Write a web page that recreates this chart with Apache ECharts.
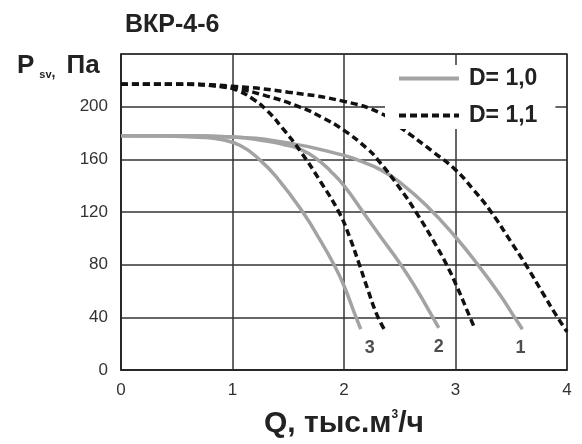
<!DOCTYPE html>
<html><head><meta charset="utf-8">
<script src="https://cdn.jsdelivr.net/npm/echarts@6/dist/echarts.min.js"></script>
<style>html,body{margin:0;padding:0;background:#fff}#c{width:582px;height:444px}</style>
</head><body><div id="c"></div>
<script>
// Data (Q in thousand m3/h, P in Pa)
var s1 = [[0,178],[0.5,178],[1,177],[1.5,172.5],[2.0,163],[2.12,159.5],[2.33,152],[2.51,142],[2.75,124],[3.0,101],[3.2,80],[3.4,57],[3.53,40],[3.6,31]];
var s2 = [[0,178],[0.5,178],[1,177],[1.3,174],[1.45,171.5],[1.61,167.5],[1.76,160],[1.88,151],[2.0,140],[2.17,120],[2.33,101],[2.51,80],[2.66,60],[2.79,41],[2.85,32]];
var s3 = [[0,178],[0.4,177.8],[0.7,176.8],[0.9,175],[1.07,170.5],[1.24,160],[1.40,146],[1.63,120],[1.79,98],[1.91,80],[2.0,64],[2.09,44],[2.15,31]];
var d1 = [[0,217],[0.5,217],[1,215.5],[1.5,211],[2.0,204],[2.33,195],[2.51,184],[2.81,165],[3.0,152],[3.15,138],[3.32,120],[3.5,97],[3.63,80],[3.8,56],[3.9,42],[4.0,29]];
var d2 = [[0,217],[0.5,217],[1,214],[1.31,208],[1.61,199.5],[1.8,192],[2.0,182],[2.21,168],[2.30,160],[2.51,137],[2.66,118],[2.81,97],[2.92,80],[3.02,62],[3.10,46],[3.17,32]];
var d3 = [[0,217],[0.5,217],[0.9,215.5],[1.05,212],[1.18,206],[1.31,197],[1.45,183.5],[1.61,166],[1.79,143],[1.96,119],[2.05,101],[2.13,82],[2.21,62],[2.29,43],[2.36,31]];
var curveNames = ['1','2','3'];
var legendNames = ['D= 1,0','D= 1,1'];
var titleText = 'ВКР-4-6';

var FF = 'Arial, "Liberation Sans", sans-serif';
var gray = '#a3a3a3', black = '#111';
var solidStyle = {color: gray, width: 3.5, type: 'solid'};
var dashStyle = {color: black, width: 3.5, type: [7,4]};
var labelOffsets = [[-2,0],[0,0],[9,0]];
function lineSeries(name, data, style){
  return {type:'line', name:name, data:data, smooth:0.5, showSymbol:false, symbol:'none',
    lineStyle:style, itemStyle:{color:style.color}, z:3};
}
var solids = [s1,s2,s3];
var labelPts = solids.map(function(s,i){ var p = s[s.length-1];
  return {value:p, name:curveNames[i], label:{offset:labelOffsets[i]}}; });

var chart = echarts.init(document.getElementById('c'));
chart.setOption({
  animation:false,
  textStyle:{fontFamily:FF},
  title:[
    {text:titleText, left:120, top:8, textStyle:{fontFamily:FF, fontSize:25, fontWeight:'bold', color:'#222'}},
    {text:'{p|P}{s|sv}{q|,}{p|Па}', left:12, top:47, textStyle:{fontFamily:FF, rich:{
      p:{fontFamily:FF, fontSize:26, fontWeight:'bold', color:'#222'},
      q:{fontFamily:FF, fontSize:14, fontWeight:'bold', color:'#222', verticalAlign:'bottom', padding:[14,11,0,0]},
      s:{fontFamily:FF, fontSize:11, fontWeight:'bold', color:'#222', verticalAlign:'bottom', padding:[16,0,0,5]}
    }}}
  ],
  legend:{orient:'vertical', left:385, top:65, padding:[2,18,2,12], itemGap:14, itemWidth:60, itemHeight:14,
    backgroundColor:'#fff', data:legendNames,
    itemStyle:{opacity:0}, lineStyle:{width:4},
    textStyle:{fontFamily:FF, fontSize:23, fontWeight:'bold', color:'#222', lineHeight:22, padding:[0,0,0,5]}},
  grid:{left:121, right:15, top:54, bottom:72, show:true, borderColor:'#333', borderWidth:1.5},
  xAxis:{type:'value', min:0, max:4, interval:1,
    name:'{a|Q, тыс.м}{b|3}{a|/ч}', nameLocation:'middle', nameGap:39,
    nameTextStyle:{rich:{a:{fontFamily:FF, fontSize:30, fontWeight:'bold', color:'#222'},
      b:{fontFamily:FF, fontSize:12, fontWeight:'bold', color:'#222', verticalAlign:'top', padding:[0,0,16,0]}}},
    axisLine:{lineStyle:{color:'#222', width:1.5}}, axisTick:{show:false},
    axisLabel:{fontFamily:FF, fontSize:17, color:'#333', margin:12},
    splitLine:{show:true, lineStyle:{color:'#333', width:1.5}}},
  yAxis:{type:'value', min:0, max:240, interval:40,
    axisLine:{show:true, lineStyle:{color:'#222', width:1.5}}, axisTick:{show:false},
    axisLabel:{fontFamily:FF, fontSize:17, color:'#333', margin:13, showMaxLabel:false},
    splitLine:{show:true, lineStyle:{color:'#333', width:1.5}}},
  series:[
    lineSeries(legendNames[0], s1, solidStyle),
    lineSeries(legendNames[0], s2, solidStyle),
    lineSeries(legendNames[0], s3, solidStyle),
    lineSeries(legendNames[1], d1, dashStyle),
    lineSeries(legendNames[1], d2, dashStyle),
    lineSeries(legendNames[1], d3, dashStyle),
    {type:'scatter', data:labelPts, symbolSize:0, silent:true, z:4,
      label:{show:true, position:'bottom', distance:10, formatter:function(p){return p.name;},
        fontFamily:FF, fontSize:18, fontWeight:'bold', color:'#222'}}
  ]
});
</script></body></html>
